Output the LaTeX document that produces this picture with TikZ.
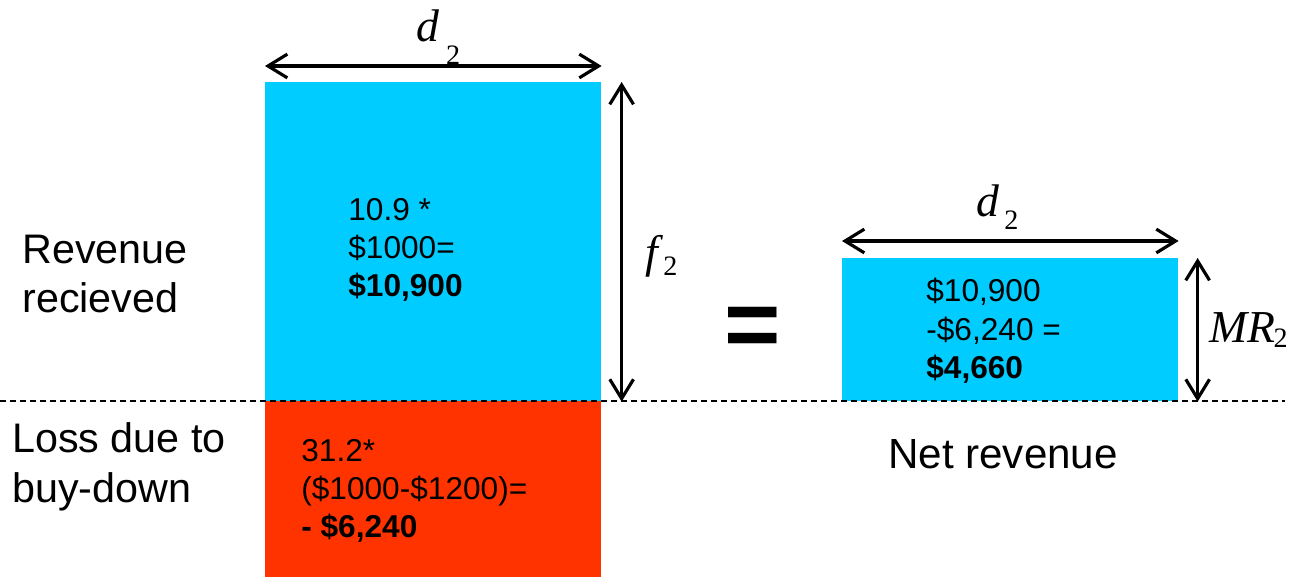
\documentclass[tikz,border=0pt]{standalone}
\usepackage{fontspec}
\setmainfont{Liberation Sans}
\newfontfamily\tms{Liberation Serif}
\usetikzlibrary{arrows.meta}
\definecolor{revblue}{RGB}{0,204,255}
\definecolor{lossred}{RGB}{255,51,0}
\newcommand{\dimlbl}[4][3pt]{{\fontsize{26}{30}\selectfont\tms\itshape #2}\kern#1\raisebox{-#4}{\fontsize{16}{18}\selectfont\tms #3}}

\tikzset{
  area/.style={draw=none, inner sep=0pt, anchor=north west, minimum width=6.72cm},
  dimarrow/.style={line width=1.8pt, {Straight Barb[length=11pt, width=13.5pt]}-{Straight Barb[length=11pt, width=13.5pt]}},
  boxtext/.style={align=left, anchor=west, inner sep=0pt, font=\fontsize{18}{21.8}\selectfont},
  sidetext/.style={align=left, anchor=west, inner sep=0pt, font=\fontsize{23.5}{28.4}\selectfont},
  dimlabel/.style={anchor=base west, inner sep=0pt},
}

\begin{document}
\begin{tikzpicture}[x=0.02cm, y=-0.02cm]
  \useasboundingbox (0,0) rectangle (1291,577);
  % the two parts of the revenue
  \node[area, fill=revblue, minimum height=6.38cm] (rev) at (265,82) {};
  \node[area, fill=lossred, minimum height=3.52cm] (loss) at (265,401) {};
  \node[boxtext] (revtxt) at (348,250) {10.9 *\\\$1000=\\\textbf{\$10,900}};
  \node[boxtext] (losstxt) at (301,491) {31.2*\\(\$1000-\$1200)=\\\textbf{- \$6,240}};
  \node[sidetext] (revlbl) at (22,274) {Revenue\\recieved};
  \node[sidetext] (losslbl) at (12,467) {Loss due to\\buy-down};
  % dimensions
  \draw[dimarrow] ([yshift=0.32cm]rev.north west) -- ([yshift=0.32cm]rev.north east);
  \draw[dimarrow] ([xshift=0.4cm]rev.north east) -- ([xshift=0.4cm]rev.south east);
  \node[dimlabel] (dleft) at (416,42) {\dimlbl[4pt]{d}{2}{13pt}};
  \node[dimlabel] (fleft) at (645,268) {\dimlbl{f}{2}{4.5pt}};
  \node[inner sep=0pt, font=\fontsize{55}{60}\selectfont\bfseries] (eq) at (753,332) {=};
  % net revenue
  \node[area, fill=revblue, minimum height=2.86cm] (net) at (842,258) {};
  \node[boxtext] (nettxt) at (926,331) {\$10,900\\-\$6,240 =\\\textbf{\$4,660}};
  \node[anchor=base, inner sep=0pt, font=\fontsize{24}{28}\selectfont] (netlbl) at (1003,468) {Net revenue};
  \draw[dimarrow] ([yshift=0.34cm]net.north west) -- ([yshift=0.34cm]net.north east);
  \draw[dimarrow] ([xshift=0.38cm]net.north east) -- ([xshift=0.38cm]net.south east);
  \node[dimlabel] (dright) at (976,217) {\dimlbl{d}{2}{7.4pt}};
  \node[dimlabel] (mright) at (1209,343) {\dimlbl[-1pt]{MR}{2}{2.3pt}};
  % zero line
  \coordinate (zl) at (0,401);
  \coordinate (zr) at (1285,401);
  \draw[line width=0.8pt, dash pattern=on 3.4pt off 2.3pt] (zl) -- (zr);
\end{tikzpicture}
\end{document}
